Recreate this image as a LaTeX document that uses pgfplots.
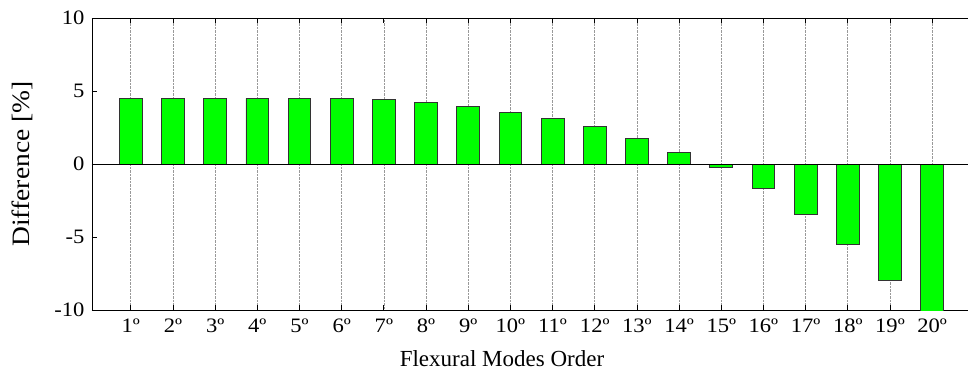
\documentclass[border=0pt]{standalone}
\usepackage{pgfplots}
\pgfplotsset{compat=1.18}
\usepackage{fontspec}
\setmainfont{Liberation Serif}[FakeStretch=1.1]
\newfontfamily\plainserif{Liberation Serif}
\begin{document}
\begin{tikzpicture}
\begin{axis}[
  at={(0,0)}, anchor=south west,
  scale only axis,
  width=876pt, height=292pt,
  xmin=0.08, xmax=20.85,
  ymin=-10, ymax=10,
  axis x line=box, axis y line=left,
  axis line style={black, line width=0.9pt, -},
  xtick={1,...,20},
  xticklabels={1º,2º,3º,4º,5º,6º,7º,8º,9º,10º,11º,12º,13º,14º,15º,16º,17º,18º,19º,20º},
  ytick={-10,-5,0,5,10},
  yticklabels={-10,-5,0,5,10},
  x tick style={black, line width=0.8pt},
  y tick style={black, line width=0.8pt},
  tick align=inside,
  major tick length=5pt,
  xmajorgrids,
  major x grid style={gray!80, densely dotted, line width=0.7pt},
  tick label style={font=\fontsize{20.5}{24}\selectfont},
  xlabel style={font=\plainserif\fontsize{23}{27}\selectfont},
  ylabel style={font=\fontsize{25}{29}\selectfont},
  xticklabel style={yshift=-5pt},
  yticklabel style={xshift=-4pt},
  xlabel={Flexural Modes Order},
  ylabel={Difference [\%]},
  xlabel style={at={(axis description cs:0.5,0)}, anchor=center, xshift=-28pt, yshift=-49pt},
  ylabel style={at={(axis description cs:0,0.5)}, anchor=center, rotate=0, yshift=70pt},
  /pgf/number format/assume math mode=true,
  clip=true,
]
\addplot[ybar, bar width=0.54, fill={rgb,255:red,0;green,255;blue,0}, draw=black!80, line width=0.8pt]
coordinates {
(1,4.5) (2,4.5) (3,4.5) (4,4.5) (5,4.5) (6,4.5) (7,4.4) (8,4.2) (9,3.95) (10,3.55)
(11,3.1) (12,2.6) (13,1.75) (14,0.8) (15,-0.25) (16,-1.65) (17,-3.45) (18,-5.5) (19,-8.0) (20,-10.5)
};
\draw[black, line width=0.9pt] (axis cs:0.08,0) -- (axis cs:20.85,0);
\end{axis}
\pgfresetboundingbox
\path (-92pt,-66pt) rectangle (876pt,310pt);
\end{tikzpicture}
\end{document}
